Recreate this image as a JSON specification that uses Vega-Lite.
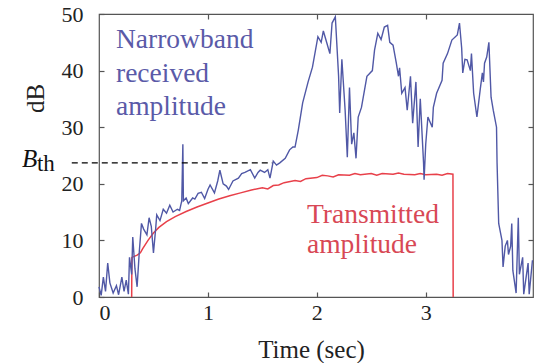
{
  "$schema": "https://vega.github.io/schema/vega-lite/v6.json",
  "width": 434,
  "height": 283,
  "autosize": {"type": "none"},
  "padding": {"left": 99, "top": 14, "right": 2, "bottom": 66},
  "background": "white",
  "config": {
    "view": {"stroke": "#555", "strokeWidth": 1.2},
    "axis": {
      "domain": false, "grid": false,
      "labelFont": "Liberation Serif", "labelFontSize": 22, "labelColor": "#222",
      "titleFont": "Liberation Serif", "titleFontSize": 25, "titleFontWeight": "normal", "titleColor": "#222",
      "tickColor": "#555", "tickSize": -5, "tickWidth": 1.2
    }
  },
  "datasets": {
    "blue": [
      {"t":0.0,"db":1.8},{"t":0.02,"db":0.3},{"t":0.04,"db":3.5},{"t":0.06,"db":1.0},{"t":0.08,"db":6.0},{"t":0.1,"db":2.5},{"t":0.13,"db":0.7},{"t":0.16,"db":2.0},{"t":0.18,"db":0.4},{"t":0.21,"db":3.5},{"t":0.23,"db":1.0},{"t":0.25,"db":3.0},{"t":0.27,"db":0.5},{"t":0.28,"db":7.0},{"t":0.3,"db":4.0},{"t":0.31,"db":10.6},{"t":0.33,"db":5.0},{"t":0.35,"db":1.8},{"t":0.37,"db":8.0},{"t":0.39,"db":13.0},{"t":0.41,"db":12.0},{"t":0.44,"db":11.0},{"t":0.46,"db":14.0},{"t":0.48,"db":12.5},{"t":0.5,"db":7.8},{"t":0.52,"db":12.0},{"t":0.53,"db":14.5},{"t":0.56,"db":13.5},{"t":0.59,"db":15.5},{"t":0.62,"db":14.8},{"t":0.65,"db":16.2},{"t":0.68,"db":15.0},{"t":0.72,"db":15.5},{"t":0.74,"db":15.3},{"t":0.76,"db":17.0},{"t":0.77,"db":27.0},{"t":0.775,"db":17.0},{"t":0.8,"db":17.5},{"t":0.82,"db":16.5},{"t":0.86,"db":17.5},{"t":0.88,"db":17.3},{"t":0.91,"db":18.3},{"t":0.94,"db":18.5},{"t":0.97,"db":17.4},{"t":1.0,"db":19.0},{"t":1.02,"db":19.8},{"t":1.06,"db":18.4},{"t":1.09,"db":20.5},{"t":1.11,"db":22.4},{"t":1.14,"db":20.0},{"t":1.17,"db":19.6},{"t":1.19,"db":19.0},{"t":1.23,"db":20.5},{"t":1.28,"db":21.0},{"t":1.31,"db":21.8},{"t":1.34,"db":22.0},{"t":1.39,"db":22.5},{"t":1.43,"db":21.0},{"t":1.46,"db":22.0},{"t":1.48,"db":22.4},{"t":1.52,"db":22.0},{"t":1.55,"db":22.5},{"t":1.57,"db":21.0},{"t":1.6,"db":24.0},{"t":1.63,"db":23.3},{"t":1.66,"db":23.7},{"t":1.71,"db":24.5},{"t":1.75,"db":26.0},{"t":1.78,"db":26.5},{"t":1.8,"db":26.5},{"t":1.83,"db":29.5},{"t":1.87,"db":34.3},{"t":1.92,"db":38.0},{"t":1.96,"db":40.6},{"t":2.01,"db":46.0},{"t":2.04,"db":45.0},{"t":2.06,"db":47.0},{"t":2.09,"db":45.0},{"t":2.12,"db":43.0},{"t":2.14,"db":48.4},{"t":2.17,"db":49.5},{"t":2.2,"db":39.0},{"t":2.21,"db":32.5},{"t":2.23,"db":42.0},{"t":2.25,"db":36.0},{"t":2.26,"db":33.0},{"t":2.28,"db":24.7},{"t":2.3,"db":37.0},{"t":2.32,"db":27.0},{"t":2.34,"db":29.0},{"t":2.36,"db":24.5},{"t":2.38,"db":31.8},{"t":2.41,"db":33.5},{"t":2.46,"db":39.0},{"t":2.51,"db":40.0},{"t":2.53,"db":43.6},{"t":2.56,"db":46.6},{"t":2.59,"db":45.5},{"t":2.62,"db":47.7},{"t":2.65,"db":48.0},{"t":2.67,"db":45.0},{"t":2.7,"db":44.5},{"t":2.73,"db":41.3},{"t":2.75,"db":39.0},{"t":2.76,"db":40.5},{"t":2.78,"db":36.0},{"t":2.81,"db":37.0},{"t":2.83,"db":33.0},{"t":2.86,"db":39.0},{"t":2.88,"db":30.7},{"t":2.91,"db":38.0},{"t":2.93,"db":26.5},{"t":2.95,"db":35.0},{"t":2.98,"db":23.7},{"t":2.985,"db":20.7},{"t":3.0,"db":27.0},{"t":3.02,"db":31.8},{"t":3.06,"db":30.0},{"t":3.07,"db":33.5},{"t":3.1,"db":36.0},{"t":3.15,"db":38.3},{"t":3.16,"db":41.3},{"t":3.2,"db":43.0},{"t":3.24,"db":45.4},{"t":3.29,"db":46.3},{"t":3.31,"db":48.4},{"t":3.33,"db":44.0},{"t":3.34,"db":39.6},{"t":3.36,"db":42.0},{"t":3.38,"db":41.9},{"t":3.41,"db":40.0},{"t":3.42,"db":43.0},{"t":3.44,"db":36.0},{"t":3.47,"db":31.8},{"t":3.5,"db":36.6},{"t":3.52,"db":39.6},{"t":3.53,"db":38.0},{"t":3.54,"db":41.3},{"t":3.56,"db":42.4},{"t":3.58,"db":45.0},{"t":3.6,"db":35.3},{"t":3.62,"db":33.0},{"t":3.65,"db":30.0},{"t":3.655,"db":23.7},{"t":3.67,"db":13.0},{"t":3.7,"db":10.0},{"t":3.71,"db":5.3},{"t":3.73,"db":9.0},{"t":3.75,"db":10.0},{"t":3.76,"db":7.5},{"t":3.78,"db":9.0},{"t":3.79,"db":13.0},{"t":3.8,"db":4.7},{"t":3.83,"db":0.7},{"t":3.85,"db":14.0},{"t":3.86,"db":4.0},{"t":3.89,"db":7.0},{"t":3.9,"db":0.5},{"t":3.94,"db":6.0},{"t":3.95,"db":0.5},{"t":3.98,"db":6.5}
    ],
    "red": [
      {"t":0.3,"db":0},{"t":0.302,"db":7.0},{"t":0.35,"db":7.4},{"t":0.38,"db":7.8},{"t":0.4,"db":8.5},{"t":0.45,"db":10.0},{"t":0.5,"db":11.3},{"t":0.55,"db":12.3},{"t":0.62,"db":13.3},{"t":0.7,"db":14.2},{"t":0.8,"db":15.1},{"t":0.9,"db":15.9},{"t":1.0,"db":16.6},{"t":1.1,"db":17.3},{"t":1.2,"db":17.9},{"t":1.3,"db":18.4},{"t":1.4,"db":18.9},{"t":1.5,"db":19.3},{"t":1.55,"db":19.1},{"t":1.6,"db":19.7},{"t":1.65,"db":19.8},{"t":1.7,"db":20.2},{"t":1.8,"db":20.6},{"t":1.85,"db":20.4},{"t":1.9,"db":20.9},{"t":2.0,"db":21.1},{"t":2.05,"db":21.5},{"t":2.1,"db":21.4},{"t":2.15,"db":21.2},{"t":2.2,"db":21.6},{"t":2.3,"db":21.5},{"t":2.35,"db":21.8},{"t":2.4,"db":21.6},{"t":2.5,"db":21.8},{"t":2.55,"db":21.5},{"t":2.6,"db":21.8},{"t":2.7,"db":21.7},{"t":2.75,"db":21.9},{"t":2.8,"db":21.7},{"t":2.9,"db":21.6},{"t":2.95,"db":21.8},{"t":3.0,"db":21.6},{"t":3.1,"db":21.7},{"t":3.15,"db":21.5},{"t":3.2,"db":21.8},{"t":3.25,"db":21.7},{"t":3.252,"db":0}
    ],
    "thresh": [{"t":-0.25,"t2":1.59,"db":23.7}],
    "bluetext": [
      {"t":0.156,"db":44.0,"label":"Narrowband"},
      {"t":0.156,"db":38.0,"label":"received"},
      {"t":0.156,"db":32.2,"label":"amplitude"}
    ],
    "redtext": [
      {"t":1.91,"db":13.1,"label":"Transmitted"},
      {"t":1.91,"db":7.8,"label":"amplitude"}
    ],
    "bsym": [{"t":-0.707,"db":23.0,"label":"B"}],
    "bsub": [{"t":-0.57,"db":22.3,"label":"th"}]
  },
  "layer": [
    {
      "data": {"name": "red"},
      "mark": {"type": "line", "color": "#e8404a", "strokeWidth": 1.5},
      "encoding": {
        "x": {"field": "t", "type": "quantitative", "scale": {"domain": [0, 3.985], "nice": false},
              "axis": {"orient": "bottom", "values": [0, 1, 2, 3], "labelPadding": 10, "title": "Time (sec)", "titleX": 212, "titleY": 60, "titleBaseline": "alphabetic", "titleAnchor": null}},
        "y": {"field": "db", "type": "quantitative", "scale": {"domain": [0, 50], "nice": false},
              "axis": {"orient": "left", "values": [0, 10, 20, 30, 40, 50], "labelPadding": 21, "title": "dB", "titleX": -64, "titleY": 84, "titleAlign": "center", "titleBaseline": "middle", "titleAngle": -90}}
      }
    },
    {
      "data": {"name": "blue"},
      "mark": {"type": "line", "color": "#5058a6", "strokeWidth": 1.4},
      "encoding": {
        "x": {"field": "t", "type": "quantitative", "axis": {"orient": "top", "values": [1, 2, 3], "labels": false, "title": null}},
        "y": {"field": "db", "type": "quantitative", "axis": {"orient": "right", "values": [10, 20, 30, 40], "labels": false, "title": null}}
      }
    },
    {
      "data": {"name": "thresh"},
      "mark": {"type": "rule", "color": "black", "strokeWidth": 1.3, "strokeDash": [6, 4]},
      "encoding": {
        "x": {"field": "t", "type": "quantitative", "axis": null},
        "x2": {"field": "t2"},
        "y": {"field": "db", "type": "quantitative", "axis": null}
      }
    },
    {
      "data": {"name": "bluetext"},
      "mark": {"type": "text", "color": "#5a5aa8", "fontSize": 27.5, "font": "Liberation Serif", "align": "left", "baseline": "alphabetic"},
      "encoding": {
        "x": {"field": "t", "type": "quantitative", "axis": null},
        "y": {"field": "db", "type": "quantitative", "axis": null},
        "text": {"field": "label"}
      }
    },
    {
      "data": {"name": "redtext"},
      "mark": {"type": "text", "color": "#d84855", "fontSize": 27.5, "font": "Liberation Serif", "align": "left", "baseline": "alphabetic"},
      "encoding": {
        "x": {"field": "t", "type": "quantitative", "axis": null},
        "y": {"field": "db", "type": "quantitative", "axis": null},
        "text": {"field": "label"}
      }
    },
    {
      "data": {"name": "bsym"},
      "mark": {"type": "text", "color": "#111", "fontSize": 25, "font": "Liberation Serif", "fontStyle": "italic", "align": "left", "baseline": "alphabetic"},
      "encoding": {
        "x": {"field": "t", "type": "quantitative", "axis": null},
        "y": {"field": "db", "type": "quantitative", "axis": null},
        "text": {"field": "label"}
      }
    },
    {
      "data": {"name": "bsub"},
      "mark": {"type": "text", "color": "#111", "fontSize": 23, "font": "Liberation Serif", "align": "left", "baseline": "alphabetic"},
      "encoding": {
        "x": {"field": "t", "type": "quantitative", "axis": null},
        "y": {"field": "db", "type": "quantitative", "axis": null},
        "text": {"field": "label"}
      }
    }
  ],
  "resolve": {"axis": {"x": "independent", "y": "independent"}}
}
